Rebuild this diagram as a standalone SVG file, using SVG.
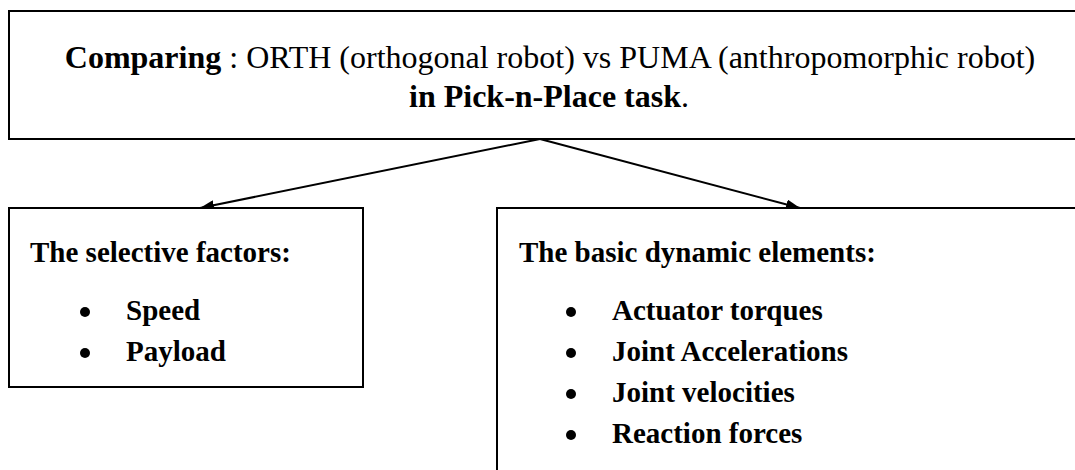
<svg xmlns="http://www.w3.org/2000/svg" width="1075" height="470" viewBox="0 0 1075 470">
  <style>
    .box { fill: #ffffff; stroke: #000000; stroke-width: 2; }
    .t { font-family: "Liberation Serif", "Times New Roman", serif; fill: #000000; }
    .title { font-size: 32px; }
    .b { font-weight: bold; }
    .sub { font-size: 29px; font-weight: bold; }
    .conn { stroke: #000000; stroke-width: 2; fill: none; }
    .dot { fill: #000000; }
  </style>
  <defs>
    <marker id="arrow" viewBox="0 0 14 10" refX="14" refY="5" markerWidth="14" markerHeight="10" markerUnits="userSpaceOnUse" orient="auto">
      <path d="M0,0 L14,5 L0,10 Z" fill="#000000"/>
    </marker>
  </defs>
  <rect width="1075" height="470" fill="#ffffff"/>

  <g id="node-top">
    <rect class="box" x="9" y="11" width="1080" height="128"/>
    <text class="t title" x="550" y="68" text-anchor="middle"><tspan class="b">Comparing</tspan> : ORTH (orthogonal robot) vs PUMA (anthropomorphic robot)</text>
    <text class="t title" x="549" y="107" text-anchor="middle"><tspan class="b">in Pick-n-Place task</tspan>.</text>
  </g>

  <g id="connectors">
    <line class="conn" x1="540" y1="139" x2="200" y2="208" marker-end="url(#arrow)"/>
    <line class="conn" x1="540" y1="139" x2="800" y2="208" marker-end="url(#arrow)"/>
  </g>

  <g id="node-selective">
    <rect class="box" x="9" y="208" width="354" height="179"/>
    <text class="t sub" x="30" y="262">The selective factors:</text>
    <circle class="dot" cx="85" cy="312" r="5"/>
    <text class="t sub" x="126" y="320">Speed</text>
    <circle class="dot" cx="85" cy="353" r="5"/>
    <text class="t sub" x="126" y="361">Payload</text>
  </g>

  <g id="node-dynamic">
    <rect class="box" x="497" y="208" width="600" height="300"/>
    <text class="t sub" x="519" y="262">The basic dynamic elements:</text>
    <circle class="dot" cx="571" cy="312" r="5"/>
    <text class="t sub" x="612" y="320">Actuator torques</text>
    <circle class="dot" cx="571" cy="353" r="5"/>
    <text class="t sub" x="612" y="361">Joint Accelerations</text>
    <circle class="dot" cx="571" cy="394" r="5"/>
    <text class="t sub" x="612" y="402">Joint velocities</text>
    <circle class="dot" cx="571" cy="435" r="5"/>
    <text class="t sub" x="612" y="443">Reaction forces</text>
  </g>
</svg>
